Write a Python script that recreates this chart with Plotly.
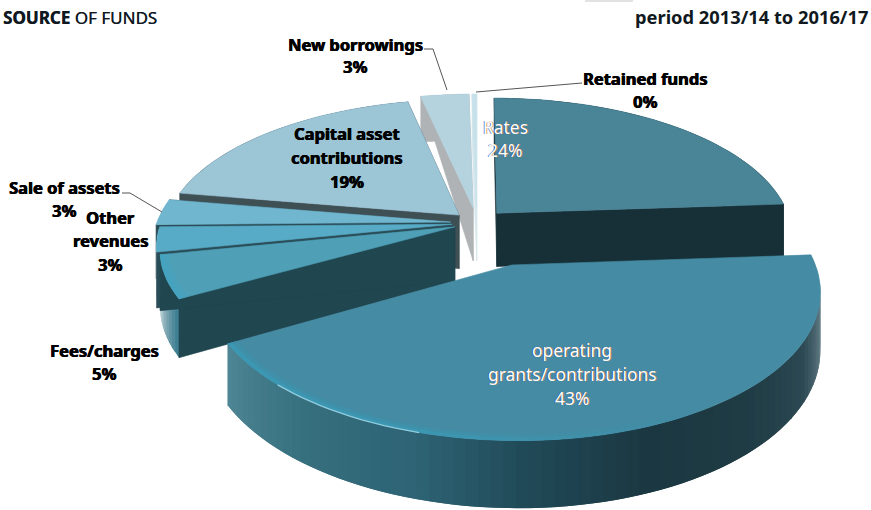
import math
import plotly.graph_objects as go

# Share of funding by source, in percent
sources = ["Rates", "operating\ngrants/contributions", "Fees/charges", "Other\nrevenues",
           "Sale of assets", "Capital asset\ncontributions", "New borrowings", "Retained funds"]
shares = [23.9, 42.9, 5.0, 2.9, 3.0, 18.9, 3.1, 0.3]

# Exploded-pie styling, one entry per source
pulls = [0.10, 0.315, 0.08, 0.085, 0.09, 0.085, 0.115, 0.115]
pull_bearing = {1: math.radians(159)}
radii = [1.0, 0.985, 0.985, 0.99, 1.0, 1.0, 1.0, 1.0]
face_colors = ["#4a8497", "#448ba3", "#4f9fb7", "#58abc6", "#70b6cf", "#9cc5d6", "#b5d3df", "#c6e1ea"]
rim_colors = ["#4a8497", "#3c97b2", "#45a3bf", "#58abc6", "#70b6cf", "#9cc5d6", "#b5d3df", "#c6e1ea"]
cut_colors = ["#172f37", None, "#204650", "#2b4d58", "#2b4d58", "#3f5055", "#b0b3b5", "#d5e6ec"]
outer_stops = [
    [(0, "#172f37"), (1, "#172f37")],
    [(0, "#9fb3b9"), (0.055, "#a9bcc2"), (0.12, "#5f7a83"), (0.217, "#2c4852"), (0.345, "#1f3b44"),
     (0.475, "#1b3842"), (0.6, "#204957"), (0.71, "#2d6374"), (0.86, "#37707f"), (1, "#4f8695")],
    [(0, "#35798d"), (0.45, "#7fa6b3"), (1, "#d5e3e7")],
    [(0, "#c5d6db"), (1, "#c5d6db")],
    [(0, "#c5d6db"), (1, "#c5d6db")],
    [(0, "#3f5055"), (1, "#3f5055")],
    [(0, "#b0b3b5"), (1, "#b0b3b5")],
    [(0, "#d5e6ec"), (1, "#d5e6ec")],
]
# Back slices are painted first so that nearer ones overlap them
paint_order = [7, 6, 0, 5, 4, 3, 2, 1]
cut_taper = {6: 0.0}
# Bevel on the front of the largest slice starts fading in past this bearing
BEVEL_FROM, BEVEL_FULL = math.radians(150), math.radians(195)

# Perspective of the pie plane on the page
CX, CY, RX, RY, PERSP, DEPTH = 477, 223, 294, 136, 0.157, 54


def project(ang, r, pull_ang, pull, down=False):
    bx = pull * math.sin(pull_ang) + r * math.sin(ang)
    by = pull * math.cos(pull_ang) + r * math.cos(ang)
    w = 1 + PERSP * by
    return CX + RX * bx / w, CY - RY * by / w + (DEPTH / w if down else 0)


def hex_mix(a, b, t):
    ca = [int(a[i:i + 2], 16) for i in (1, 3, 5)]
    cb = [int(b[i:i + 2], 16) for i in (1, 3, 5)]
    return "#" + "".join(f"{round(x + (y - x) * t):02x}" for x, y in zip(ca, cb))


def stop_color(stops, f):
    for (f0, c0), (f1, c1) in zip(stops, stops[1:]):
        if f <= f1:
            return hex_mix(c0, c1, (f - f0) / (f1 - f0 or 1))
    return stops[-1][1]


fig = go.Figure()


def polygon(pts, color, edge=0.6):
    fig.add_trace(go.Scatter(
        x=[p[0] for p in pts] + [pts[0][0]], y=[p[1] for p in pts] + [pts[0][1]],
        mode="lines", fill="toself", fillcolor=color,
        line=dict(color=color, width=edge), hoverinfo="skip", showlegend=False))


total = sum(shares)
edges = [0.0]
for s in shares:
    edges.append(edges[-1] + 2 * math.pi * s / total)

for i in paint_order:
    a0, a1 = edges[i], edges[i + 1]
    mid, pull, rad = pull_bearing.get(i, (a0 + a1) / 2), pulls[i], radii[i]
    steps = max(2, int((a1 - a0) / math.radians(2)))
    arc = [a0 + (a1 - a0) * k / steps for k in range(steps + 1)]

    # Outer rim of the slice, shaded along its length; each strip overlaps the next
    for k in range(steps):
        end = arc[min(k + 2, steps)]
        quad = [project(arc[k], rad, mid, pull), project(end, rad, mid, pull),
                project(end, rad, mid, pull, True), project(arc[k], rad, mid, pull, True)]
        polygon(quad, stop_color(outer_stops[i], (k + 0.5) / steps), 0)

    # The two cut walls running in to the apex
    if cut_colors[i]:
        taper = cut_taper.get(i, 1.0)
        for a in (a0, a1):
            ax, ay = project(a, 0, mid, pull)
            axd, ayd = project(a, 0, mid, pull, True)
            ox, oy = project(a, rad, mid, pull)
            oxd, oyd = project(a, rad, mid, pull, True)
            polygon([(ax, ay), (ox, oy), (ox, oy + (oyd - oy) * taper), (axd, ayd)], cut_colors[i])

    # Top face
    polygon([project(0, 0, mid, pull)] + [project(a, rad, mid, pull) for a in arc], face_colors[i])

    # Soft bevel towards the outer edge, only on the slices that catch the light
    if rim_colors[i] != face_colors[i]:
        for k in range(steps):
            c = (arc[k] - BEVEL_FROM) / (BEVEL_FULL - BEVEL_FROM) if i == 1 else 1.0
            c = max(0.0, min(1.0, c))
            if c == 0:
                continue
            end = arc[min(k + 2, steps)]
            for r0, r1, t in ((0.97, 0.985, 0.45), (0.985, 1.0, 1.0)):
                band = [project(arc[k], r0 * rad, mid, pull), project(end, r0 * rad, mid, pull),
                        project(end, r1 * rad, mid, pull), project(arc[k], r1 * rad, mid, pull)]
                polygon(band, hex_mix(face_colors[i], rim_colors[i], t * c), 0)

# Light catching the front rim of the largest slice
glint = [math.radians(d) for d in range(196, 226, 2)]
pts = [project(a, radii[1], pull_bearing[1], pulls[1]) for a in glint]
fig.add_trace(go.Scatter(x=[p[0] for p in pts], y=[p[1] for p in pts], mode="lines",
                         line=dict(color="#8fcbdc", width=1.4), hoverinfo="skip", showlegend=False))

# Label centres and the space between label lines
label_pos = [(505, 127), (572, 350), (104, 350), (110, 217), (64, 187), (347, 133), (355, 44), (645, 78)]
label_step = [23, 24, 23, 23.5, 23, 24, 22, 23]
white_labels = {0, 1}
DARK_SHADOW = "0.5px 0 0 #000, -0.3px 0 0 #000"
LIGHT_SHADOW = "1px 0 0 rgba(200,120,40,0.7), -1px 0 0 rgba(40,90,190,0.7)"

annotations = []
for i, name in enumerate(sources):
    lines = name.split("\n") + [f"{round(shares[i])}%"]
    for n, line in enumerate(lines):
        white = i in white_labels
        annotations.append(dict(
            x=label_pos[i][0], y=label_pos[i][1] + n * label_step[i], xref="x", yref="y",
            text=line if white else f"<b>{line}</b>", showarrow=False, xanchor="center", yanchor="middle",
            font=dict(family="Noto Sans", size=17.4 if white else 16.5, color="#ffffff" if white else "#000000",
                      shadow=LIGHT_SHADOW if white else DARK_SHADOW)))

annotations.append(dict(x=159, y=17, xref="x", yref="y", xanchor="right", yanchor="middle", showarrow=False,
                        text="<b>SOURCE</b> OF FUNDS",
                        font=dict(family="Noto Sans", size=17, color="#101820", shadow="0.3px 0 0 #203040")))
annotations.append(dict(x=870, y=16, xref="x", yref="y", xanchor="right", yanchor="middle", showarrow=False,
                        text="<b>period 2013/14 to 2016/17</b>",
                        font=dict(family="Noto Sans", size=18.3, color="#101820")))

# Leader lines from outside labels to their slices
leaders = [[(424, 49), (433, 49), (447, 90)], [(582, 83), (476, 92)], [(122, 193), (130, 193), (162, 212)]]
shapes = [dict(type="rect", xref="x", yref="y", x0=585, x1=633, y0=0, y1=2,
               fillcolor="#e2e2e2", line=dict(width=0))]
for leader in leaders:
    for (x0, y0), (x1, y1) in zip(leader, leader[1:]):
        shapes.append(dict(type="line", xref="x", yref="y", x0=x0, y0=y0, x1=x1, y1=y1,
                           line=dict(color="#555555", width=1)))

fig.update_layout(
    width=871, height=510, autosize=False, margin=dict(l=0, r=0, t=0, b=0),
    paper_bgcolor="#ffffff", plot_bgcolor="#ffffff", showlegend=False,
    xaxis=dict(range=[0, 871], visible=False, fixedrange=True),
    yaxis=dict(range=[510, 0], visible=False, fixedrange=True),
    annotations=annotations, shapes=shapes)

fig.write_html("out.html", config={"displayModeBar": False})
